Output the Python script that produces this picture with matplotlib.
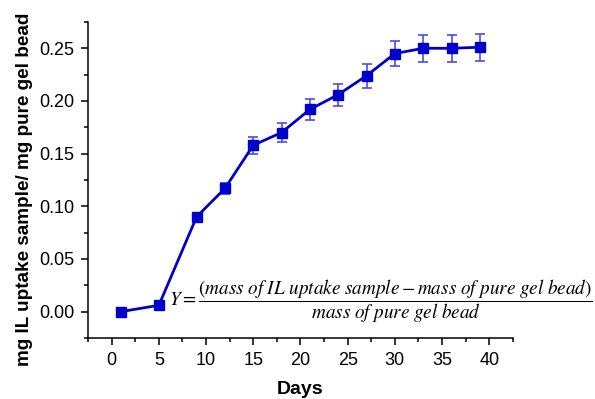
import numpy as np
import matplotlib.pyplot as plt
from matplotlib.ticker import MultipleLocator

# uptake of ionic liquid by the gel beads over time
days = [1, 5, 9, 12, 15, 18, 21, 24, 27, 30, 33, 36, 39]
uptake = [0.0, 0.006, 0.090, 0.117, 0.158, 0.170, 0.192, 0.206, 0.224, 0.245, 0.250, 0.250, 0.251]
err = [0.0, 0.0, 0.003, 0.0055, 0.008, 0.0086, 0.0097, 0.0105, 0.0114, 0.0122, 0.0127, 0.0127, 0.0127]

plt.rcParams['font.family'] = ['Liberation Sans', 'DejaVu Sans']
plt.rcParams['mathtext.fontset'] = 'stix'

fig = plt.figure(figsize=(5.95, 3.99), dpi=100)
ax = fig.add_axes([0.148, 0.153, 0.714, 0.792])

ax.errorbar(days, uptake, yerr=err, fmt='none', ecolor='#4a4af0', elinewidth=1.2,
            capsize=3.5, capthick=1.2, zorder=2)
ax.plot(days, uptake, '-s', color='#0000cc', lw=2, ms=7, zorder=3)

ax.set_xlim(-2.5, 42.5)
ax.set_ylim(-0.025, 0.275)
ax.xaxis.set_major_locator(MultipleLocator(5))
ax.xaxis.set_minor_locator(MultipleLocator(2.5))
ax.yaxis.set_major_locator(MultipleLocator(0.05))
ax.yaxis.set_minor_locator(MultipleLocator(0.025))
ax.yaxis.set_major_formatter(plt.FormatStrFormatter('%.2f'))

ax.spines['top'].set_visible(False)
ax.spines['right'].set_visible(False)
for s in ('left', 'bottom'):
    ax.spines[s].set_linewidth(1.1)
ax.tick_params(which='major', direction='out', length=5, width=1.1, labelsize=13, pad=5)
ax.tick_params(which='minor', direction='out', length=3, width=1.1)

ax.set_xlabel('Days', fontsize=14, fontweight='bold', labelpad=9)
ax.set_ylabel('mg IL uptake sample/ mg pure gel bead', fontsize=13.6, fontweight='bold')
ax.yaxis.set_label_coords(-0.13, 0.47)

ax.text(6.1, 0.0105,
        r'$Y = \dfrac{(mass\ of\ IL\ uptake\ sample - mass\ of\ pure\ gel\ bead)}{mass\ of\ pure\ gel\ bead}$',
        fontsize=13.8, va='center', ha='left', clip_on=False)

fig.savefig('out.png', dpi=100)
